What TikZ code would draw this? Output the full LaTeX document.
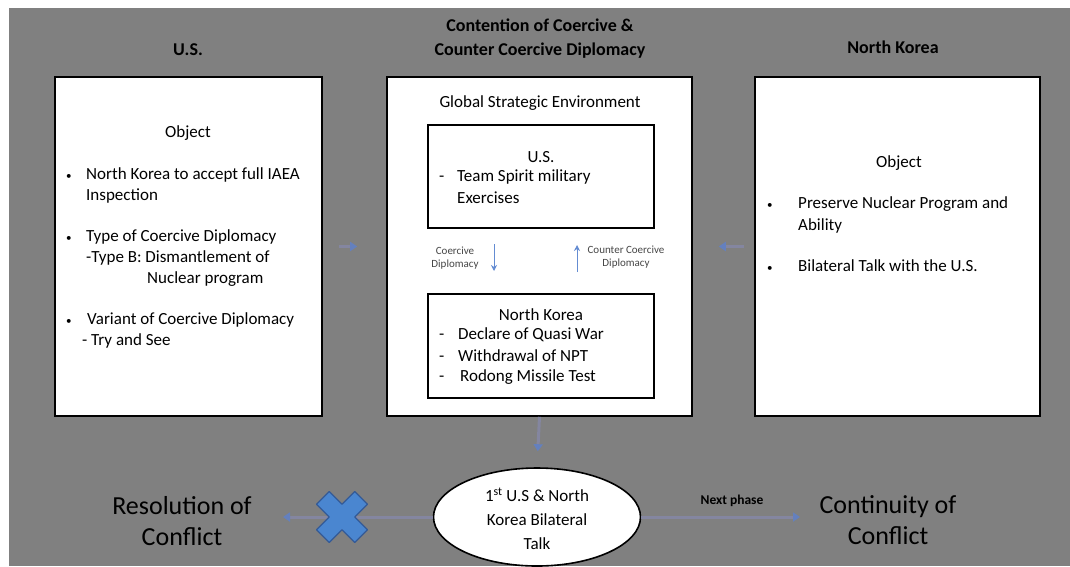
\documentclass[tikz,border=0pt]{standalone}
\usepackage{fontspec}
\setmainfont{Carlito}
\usetikzlibrary{shapes.geometric,arrows.meta}
\definecolor{bggray}{RGB}{128,128,128}
\definecolor{faintline}{RGB}{132,134,160}
\definecolor{faintblue}{RGB}{100,128,190}
\definecolor{thinblue}{RGB}{100,140,210}
\definecolor{crossfill}{RGB}{74,134,208}
\definecolor{crossedge}{RGB}{52,90,150}
\definecolor{smallgray}{RGB}{70,70,70}
\newcommand{\bul}[1]{\makebox[#1][l]{\fontsize{11}{11}\selectfont•}}
\newcommand{\dsh}[1]{\makebox[#1][l]{-}}
\begin{document}
\begin{tikzpicture}[x=1pt,y=-1pt,
  panel/.style={draw=black,line width=1.6pt,fill=white,rectangle,inner sep=0pt},
  inbox/.style={draw=black,line width=1.6pt,fill=white,rectangle,inner sep=0pt},
  body/.style={font=\fontsize{17}{21}\selectfont,inner sep=0pt,text=black},
  bodyw/.style={body,anchor=west},
  head/.style={font=\bfseries\fontsize{18}{24}\selectfont,inner sep=0pt,align=center},
  big/.style={font=\fontsize{26}{31}\selectfont,inner sep=0pt,align=center},
  small/.style={font=\fontsize{11}{12.5}\selectfont,inner sep=0pt,align=center,text=smallgray},
  faintarrow/.style={draw=faintline,line width=3pt,-{Triangle[length=7pt,width=9pt,color=faintblue,fill=faintblue]}},
  thinarrow/.style={draw=thinblue,line width=1pt,-{Stealth[length=6pt,width=6pt]}}
]
\useasboundingbox (0,0) rectangle (1070,566);
\fill[white] (0,0) rectangle (1070,566);
\fill[bggray] (9,8) rectangle (1070,566);

% headings
\node[head] (hus) at (188,50) {U.S.};
\node[head] (hmid) at (540,39) {Contention of Coercive \&\\Counter Coercive Diplomacy};
\node[head] (hnk) at (893,47) {North Korea};

% panels
\node[panel,minimum width=267pt,minimum height=339pt] (usbox) at (188.5,246.5) {};
\node[panel,minimum width=305pt,minimum height=339pt] (cbox) at (539.5,246.5) {};
\node[panel,minimum width=285pt,minimum height=339pt] (nkbox) at (897.5,246.5) {};

% left panel text
\node[body] (uobj) at (188,133) {Object};
\node[bodyw] (ut1) at (66,175) {\bul{20pt}North Korea to accept full IAEA};
\node[bodyw] (ut2) at (86,196) {Inspection};
\node[bodyw] (ut3) at (66,237) {\bul{20pt}Type of Coercive Diplomacy};
\node[bodyw] (ut4) at (86,258) {-Type B: Dismantlement of};
\node[bodyw] (ut5) at (147,279) {Nuclear program};
\node[bodyw] (ut6) at (66,320) {\bul{21pt}Variant of Coercive Diplomacy};
\node[bodyw] (ut7) at (82,341) {- Try and See};

% right panel text
\node[body] (nobj) at (899,163) {Object};
\node[bodyw] (nt1) at (767,204) {\bul{31pt}Preserve Nuclear Program and};
\node[bodyw] (nt2) at (798,226) {Ability};
\node[bodyw] (nt3) at (767,266) {\bul{31pt}Bilateral Talk with the U.S.};

% centre panel
\node[body] (gse) at (540,103) {Global Strategic Environment};
\node[inbox,minimum width=226pt,minimum height=103pt] (usin) at (541,176.5) {};
\node[body] (usint) at (541,157) {U.S.};
\node[bodyw] (ust1) at (439,177) {\dsh{18pt}Team Spirit military};
\node[bodyw] (ust2) at (457,198) {Exercises};

\node[small] (cdl) at (455,258) {Coercive\\Diplomacy};
\node[small] (ccdl) at (626,257) {Counter Coercive\\Diplomacy};
\coordinate (dtop) at (494,244);
\coordinate (dbot) at (494,271);
\coordinate (ubot) at (577,272);
\coordinate (utop) at (577,245);
\draw[thinarrow] (dtop) -- (dbot);
\draw[thinarrow] (ubot) -- (utop);

\node[inbox,minimum width=226pt,minimum height=104pt] (nkin) at (541,346) {};
\node[body] (nkint) at (541,315) {North Korea};
\node[bodyw] (nkt1) at (439,335) {\dsh{19pt}Declare of Quasi War};
\node[bodyw] (nkt2) at (439,356) {\dsh{19pt}Withdrawal of NPT};
\node[bodyw] (nkt3) at (439,377) {\dsh{21pt}Rodong Missile Test};

% bottom row
\node[draw=black,line width=1.6pt,fill=white,ellipse,minimum width=207pt,minimum height=98pt,inner sep=0pt] (talk) at (537,517) {};
\node[body,align=center,font=\fontsize{17}{24}\selectfont] (talkt) at (537,519) {1\textsuperscript{st} U.S \& North\\Korea Bilateral\\Talk};
\node[big] (res) at (182,521) {Resolution of\\Conflict};
\node[big] (cont) at (888,520) {Continuity of\\Conflict};
\coordinate (resend) at (283,517);
\coordinate (contend) at (800,517);

% connectors
\draw[faintarrow,shorten <=16pt,shorten >=29pt] (usbox.east) -- (cbox.west);
\draw[faintarrow,shorten <=10pt,shorten >=26pt] (nkbox.west) -- (cbox.east);
\draw[faintarrow,shorten >=16pt] (cbox.south) -- (talk.north);
\draw[faintarrow] (talk.west) -- (resend);
\draw[faintarrow] (talk.east) -- (contend);
\node[font=\bfseries\fontsize{13.5}{15}\selectfont,inner sep=0pt] (nextlbl) at (732,501) {Next phase};

% cross
\begin{scope}[shift={(342,517)},rotate=45]
\draw[fill=crossfill,draw=crossedge,line width=1.2pt,line join=round]
  (-9,-27) -- (9,-27) -- (9,-9) -- (27,-9) -- (27,9) -- (9,9) -- (9,27) -- (-9,27) -- (-9,9) -- (-27,9) -- (-27,-9) -- (-9,-9) -- cycle;
\end{scope}
\end{tikzpicture}
\end{document}
